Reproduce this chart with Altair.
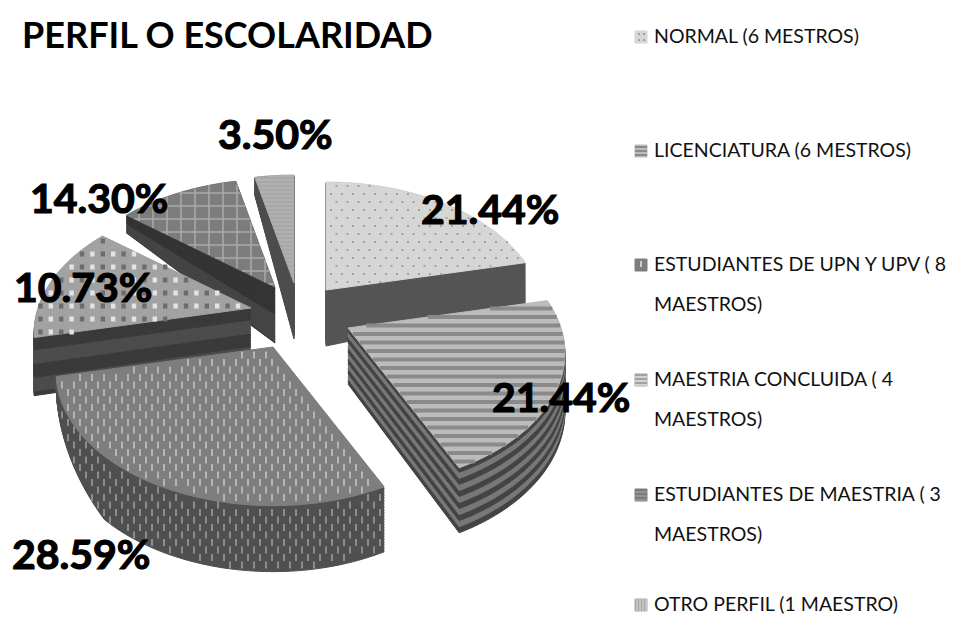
import numpy as np
import pandas as pd
import altair as alt

alt.data_transformers.disable_max_rows()

# ---- chart values ----
TITLE = "PERFIL O ESCOLARIDAD"
legend_lines = [
    ["NORMAL (6 MESTROS)"],
    ["LICENCIATURA (6 MESTROS)"],
    ["ESTUDIANTES DE UPN Y UPV ( 8", "MAESTROS)"],
    ["MAESTRIA CONCLUIDA ( 4", "MAESTROS)"],
    ["ESTUDIANTES DE MAESTRIA ( 3", "MAESTROS)"],
    ["OTRO PERFIL (1 MAESTRO)"],
]
values = [21.44, 21.44, 28.59, 14.30, 10.73, 3.50]
pct_labels = ["21.44%", "21.44%", "28.59%", "10.73%", "14.30%", "3.50%"]

# ---- layout and style ----
W, H = 940, 607
apex = [(326, 290), (348, 328), (273, 347), (251, 308), (275, 287), (294, 283)]
top_fill = ["#d6d6d6", "#bcbcbc", "#7e7e7e", "#a2a2a2", "#7c7c7c", "#a8a8a8"]
side_a = ["#555555", "#444444", "#505050", "#3a3a3a", "#353535", "#4e4e4e"]
side_b = ["#555555", "#787878", "#505050", "#4c4c4c", "#454545", "#4e4e4e"]
band_px = [99, 5.5, 99, 14, 30, 99]
draw_order = [5, 4, 3, 2, 0, 1]
label_pos = [(421, 212), (492, 400), (12, 557), (14, 290), (30, 201), (218, 137)]
legend_y = [37, 151, 265, 380, 495, 605]
legend_step = 40
A, B, K = 213.0, 128.5, 0.19


def project(theta, r=1.0):
    X, Y = r * np.sin(theta), r * np.cos(theta)
    f = 1 / (1 + K * Y)
    return A * X * f, -B * Y * f, Y


def depth(Y):
    return np.interp(Y, [-1, 0, 0.6, 1], [66, 56, 18, 18])


def pip(px, py, poly):
    xs, ys = poly[:, 0], poly[:, 1]
    x2, y2 = np.roll(xs, -1), np.roll(ys, -1)
    with np.errstate(divide="ignore", invalid="ignore"):
        c = ((ys > py) != (y2 > py)) & (px < (x2 - xs) * (py - ys) / (y2 - ys) + xs)
    return c.sum() % 2 == 1


def crossings(poly, y=None, x=None):
    a = poly if y is not None else poly[:, ::-1]
    v = y if y is not None else x
    s, t = a[:, 1], np.roll(a[:, 1], -1)
    p, q = a[:, 0], np.roll(a[:, 0], -1)
    m = (s > v) != (t > v)
    return np.sort(p[m] + (q[m] - p[m]) * (v - s[m]) / (t[m] - s[m]))


fracs = np.cumsum([0] + values) / sum(values)
polys, depths = [], []
for i in range(6):
    th = 2 * np.pi * np.linspace(fracs[i], fracs[i + 1], 46)
    dx, dy, Y = project(th)
    cx, cy = apex[i]
    px = np.r_[cx, cx + dx, cx]
    py = np.r_[cy, cy + dy, cy]
    polys.append(np.c_[px, py])
    dp = depth(Y)
    if i == 2:  # the far-left end of the big slice tapers away
        dp = dp * np.interp(np.arange(46), [0, 30, 45], [1, 1, 0.2])
    depths.append(np.r_[56, dp, 56])

rows = []
pid = 0
for i in draw_order:
    n = int(depths[i].max() / 1.5) + 1
    for t in np.linspace(1, 0, n)[:-1]:
        band = int(t * 60 / band_px[i])
        col = side_a[i] if band % 2 == 0 else side_b[i]
        for j, (x, y) in enumerate(polys[i]):
            rows.append((pid, j, x, y + t * depths[i][j], col))
        pid += 1
    for j, (x, y) in enumerate(polys[i]):
        rows.append((pid, j, x, y, top_fill[i]))
    pid += 1

# small square legend keys, as paths in the same layer
key_x, key_s = 635, 12
for i, ly in enumerate(legend_y):
    sq = [(key_x, ly - 6), (key_x + key_s, ly - 6), (key_x + key_s, ly + 6), (key_x, ly + 6), (key_x, ly - 6)]
    for j, (x, y) in enumerate(sq):
        rows.append((pid, j, x, y, top_fill[i]))
    pid += 1
poly_df = pd.DataFrame(rows, columns=["pid", "j", "x", "y", "c"])

# ---- textures as short rule segments ----
seg = []


def add(x, y, x2, y2, c, w):
    seg.append((x, y, x2, y2, c, w))


# NORMAL: staggered dots
P = polys[0]
for r, y in enumerate(np.arange(178, 300, 8)):
    for x in np.arange(320 + (r % 2) * 5.5, 530, 11):
        if pip(x, y, P):
            add(x - 1, y, x + 1, y, "#a2a2a2", 2)
# LICENCIATURA: horizontal stripes
P = polys[1]
for y in np.arange(300, 470, 8.5):
    c = crossings(P, y=y)
    for a, b in zip(c[::2], c[1::2]):
        add(a, y, b, y, "#8a8a8a", 4)
# UPN: staggered dashes, on top and on side
P = polys[2]
ts = np.linspace(0, 1, 30)


def on_body(x, y):
    return any(pip(x, y, np.c_[P[:, 0], P[:, 1] + t * depths[2]]) for t in ts)


for r, y in enumerate(np.arange(340, 575, 7.5)):
    for x in np.arange(50 + (r % 2) * 6, 385, 12):
        on_top = pip(x, y, P) and pip(x, y - 3.5, P) and pip(x, y + 3.5, P)
        on_side = not pip(x, y - 3.5, P) and not pip(x, y + 3.5, P) and on_body(x, y - 3.5) and on_body(x, y + 3.5)
        if on_top or on_side:
            add(x, y - 3.5, x, y + 3.5, "#b4b4b4" if on_top else "#8c8c8c", 2)
# CONCLUIDA: checks of light and dark squares
P3 = polys[3]
for r, y in enumerate(np.arange(228, 340, 13)):
    for q, x in enumerate(np.arange(30, 255, 5.2)):
        if pip(x, y, P3) and q % 2 == 0:
            add(x - 2.2, y, x + 2.2, y, "#e4e4e4" if q % 4 == 0 else "#6c6c6c", 5)
# ESTUDIANTES DE MAESTRIA: lattice
P4 = polys[4]
for y in np.arange(180, 290, 13):
    c = crossings(P4, y=y)
    for a, b in zip(c[::2], c[1::2]):
        add(a, y, b, y, "#aaaaaa", 1.5)
for x in np.arange(125, 275, 14):
    c = crossings(P4, x=x)
    for a, b in zip(c[::2], c[1::2]):
        add(x, a, x, b, "#aaaaaa", 1.5)
# OTRO: fine lattice
P5 = polys[5]
for y in np.arange(176, 285, 4):
    c = crossings(P5, y=y)
    for a, b in zip(c[::2], c[1::2]):
        add(a, y, b, y, "#b8b8b8", 1)
# legend keys
ly = legend_y
for dx in (3, 8):
    for dy in (-3, 3):
        add(key_x + dx, ly[0] + dy, key_x + dx + 2, ly[0] + dy, "#a2a2a2", 2)
for dy in (-4, 0, 4):
    add(key_x, ly[1] + dy, key_x + key_s, ly[1] + dy, "#8a8a8a", 2)
add(key_x + 6, ly[2] - 4, key_x + 6, ly[2] + 2, "#cfcfcf", 2)
for dy in (-3, 1, 5):
    add(key_x, ly[3] + dy, key_x + key_s, ly[3] + dy, "#e0e0e0", 1.5)
for dy in (-3, 1, 5):
    add(key_x, ly[4] + dy, key_x + key_s, ly[4] + dy, "#aaaaaa", 1)
for dx in (2, 5, 8, 11):
    add(key_x + dx, ly[5] - 6, key_x + dx, ly[5] + 6, "#e0e0e0", 1)
seg_df = pd.DataFrame(seg, columns=["x", "y", "x2", "y2", "c", "w"])

# ---- text ----
FONT = "Lato"
pct_df = pd.DataFrame({"x": [p[0] for p in label_pos], "y": [p[1] for p in label_pos], "t": pct_labels})
leg = []
for y0, lines in zip(legend_y, legend_lines):
    for k, s in enumerate(lines):
        leg.append((654, y0 + k * legend_step, s))
leg_df = pd.DataFrame(leg, columns=["x", "y", "t"])
title_df = pd.DataFrame({"x": [22], "y": [37], "t": [TITLE]})

sx = alt.Scale(domain=[8, 8 + W], range=[0, W])
sy = alt.Scale(domain=[8, 8 + H], range=[0, H])
X = alt.X("x:Q", scale=sx, axis=None)
Y_ = alt.Y("y:Q", scale=sy, axis=None)

shapes = alt.Chart(poly_df).mark_line(strokeWidth=1, interpolate="linear").encode(
    x=X, y=Y_, detail="pid:N", order="j:Q",
    stroke=alt.Stroke("c:N", scale=None, legend=None),
    fill=alt.Fill("c:N", scale=None, legend=None),
)
texture = alt.Chart(seg_df).mark_rule().encode(
    x=X, y=Y_, x2="x2:Q", y2="y2:Q",
    stroke=alt.Stroke("c:N", scale=None, legend=None),
    strokeWidth=alt.StrokeWidth("w:Q", scale=None, legend=None),
)
pct = alt.Chart(pct_df).mark_text(font=FONT, fontSize=41, fontWeight="bold", align="left",
                                  baseline="middle", color="#000000", stroke="#000000",
                                  strokeWidth=1.2).encode(x=X, y=Y_, text="t:N")
legend = alt.Chart(leg_df).mark_text(font=FONT, fontSize=19.5, align="left", baseline="middle",
                                     color="#111111").encode(x=X, y=Y_, text="t:N")
title = alt.Chart(title_df).mark_text(font=FONT, fontSize=36, fontWeight="bold", align="left",
                                      baseline="middle", color="#000000").encode(x=X, y=Y_, text="t:N")

chart = alt.layer(shapes, texture, pct, legend, title).properties(
    width=W, height=H, padding=0, autosize=alt.AutoSizeParams(type="none"), background="#ffffff",
).configure_view(stroke=None)

chart.save("out.html", embed_options={"renderer": "svg", "actions": False})
